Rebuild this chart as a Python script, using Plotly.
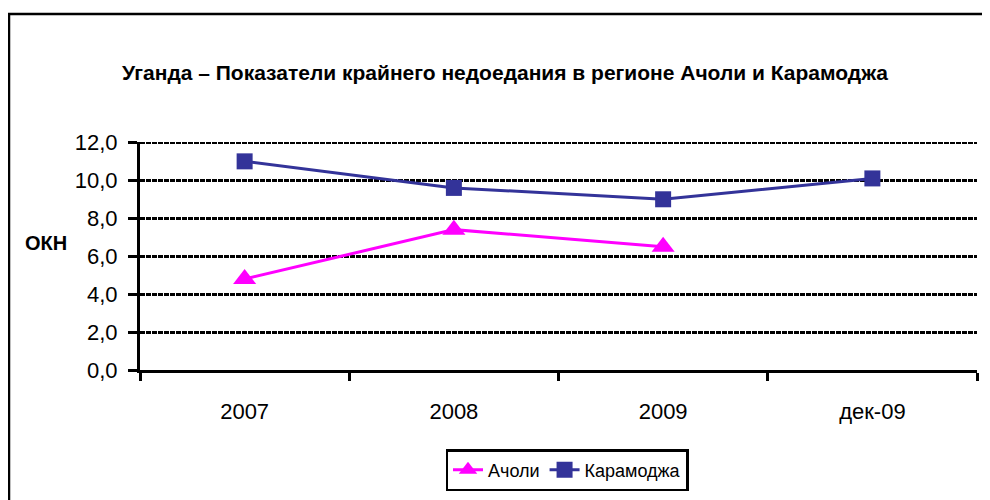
import plotly.graph_objects as go

categories = ["2007", "2008", "2009", "дек-09"]
acholi = [4.8, 7.4, 6.5, None]
karamoja = [11.0, 9.6, 9.0, 10.1]
y_ticks = [0, 2, 4, 6, 8, 10, 12]

fig = go.Figure()
fig.add_trace(go.Scatter(
    x=categories, y=acholi, name="Ачоли", mode="lines+markers",
    line=dict(color="#FF00FF", width=3),
    marker=dict(symbol="triangle-up", size=20, color="#FF00FF"),
))
fig.add_trace(go.Scatter(
    x=categories, y=karamoja, name="Карамоджа", mode="lines+markers",
    line=dict(color="#333399", width=3),
    marker=dict(symbol="square", size=16, color="#333399"),
))

OFF = 8  # page body margin
W, H = 990, 500
L, T = 140 - OFF, 142 - OFF
R = W - (977 - OFF)
B = H - (370 - OFF)
pw, ph = W - L - R, H - T - B


def px(xp):
    return (xp - OFF - L) / pw


def py(yp):
    return (H - B - (yp - OFF)) / ph


fig.update_layout(
    width=W, height=H,
    margin=dict(l=L, r=R, t=T, b=B),
    paper_bgcolor="white", plot_bgcolor="white",
    separators=", ",
    font=dict(family="Arial, Liberation Sans, sans-serif", color="black", size=22),
    title=dict(text="<b>Уганда – Показатели крайнего недоедания в регионе Ачоли и Карамоджа</b>",
               x=(505 - OFF) / W, xanchor="center", y=1 - (73 - OFF) / H, yanchor="middle",
               font=dict(size=21)),
    showlegend=True,
    legend=dict(orientation="h", x=px(567), xanchor="center",
                y=py(470), yanchor="middle",
                bordercolor="black", borderwidth=2.5, font=dict(size=18),
                tracegroupgap=0),
    xaxis=dict(type="category", showline=True, linecolor="black", linewidth=3,
               ticks="outside", tickson="boundaries", ticklen=8, tickwidth=2.5,
               tickcolor="black", showgrid=False, range=[-0.5, 3.5], fixedrange=True,
               ticklabelstandoff=20),
    yaxis=dict(range=[0, 12.02], tickvals=y_ticks, tickformat=".1f",
               showline=True, linecolor="black", linewidth=3,
               ticks="outside", ticklen=9, tickwidth=2.5, tickcolor="black",
               ticklabelstandoff=6,
               showgrid=True, gridcolor="black", gridwidth=3, griddash="5px,1px",
               zeroline=False, fixedrange=True),
)

# top gridline at the maximum tick (plotly omits it at the edge)
fig.add_shape(type="line", xref="paper", yref="y", x0=0, x1=1,
              y0=y_ticks[-1], y1=y_ticks[-1],
              line=dict(color="black", width=3, dash="5px,1px"), layer="below")

# outer chart border
fig.add_shape(type="rect", xref="paper", yref="paper",
              x0=px(9), x1=px(1010), y0=py(530), y1=py(14),
              line=dict(color="black", width=2.5), layer="below")

fig.add_annotation(text="<b>ОКН</b>", xref="paper", yref="paper",
                   x=px(46), y=py(243), showarrow=False,
                   font=dict(size=20), xanchor="center", yanchor="middle")

fig.write_html("out.html")
